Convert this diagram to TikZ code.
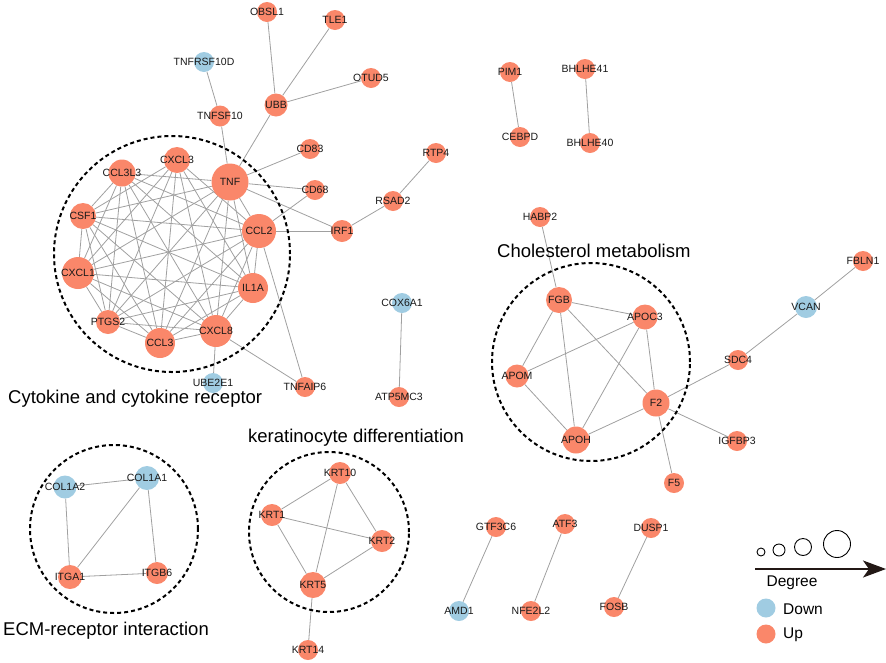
\documentclass[tikz,border=0pt]{standalone}
\usepackage{fontspec}
\setmainfont{Liberation Sans}
\usetikzlibrary{backgrounds,arrows.meta}
\definecolor{upc}{RGB}{250,135,106}
\definecolor{dnc}{RGB}{160,204,226}
\definecolor{edgec}{RGB}{160,160,160}
\definecolor{txt}{RGB}{25,25,25}
\definecolor{arrc}{RGB}{35,24,21}
\begin{document}
\begin{tikzpicture}[x=1pt,y=-1pt,
  up/.style={circle,fill=upc,draw=none,inner sep=0pt,minimum size=#1},
  up/.default=20pt,
  dn/.style={circle,fill=dnc,draw=none,inner sep=0pt,minimum size=#1},
  dn/.default=20pt,
  every label/.style={font=\fontsize{10.5pt}{12pt}\selectfont,text=txt,inner sep=0pt},
  edge/.style={draw=edgec,line width=0.8pt},
  group/.style={draw=black,line width=2pt,dash pattern=on 4pt off 3pt},
  title/.style={font=\fontsize{18.5pt}{22pt}\selectfont,anchor=west,inner sep=0pt,text=black},
  legtxt/.style={font=\fontsize{15.5pt}{18pt}\selectfont,inner sep=0pt,text=black},
  legc/.style={circle,draw=black,line width=0.9pt,inner sep=0pt,minimum size=#1}
]
\useasboundingbox (0,0) rectangle (886,662);
% ---- cytokine cluster and neighbours
\node[up] (OBSL1) at (267,12) [label=center:OBSL1] {};
\node[up] (TLE1) at (335,20) [label=center:TLE1] {};
\node[dn] (TNFRSF10D) at (204,62) [label=center:TNFRSF10D] {};
\node[up] (OTUD5) at (371,78) [label=center:OTUD5] {};
\node[up=23pt] (UBB) at (276,105) [label=center:UBB] {};
\node[up=21pt] (TNFSF10) at (220,116) [label=center:TNFSF10] {};
\node[up] (CD83) at (310,149) [label=center:CD83] {};
\node[up] (RTP4) at (436,153) [label=center:RTP4] {};
\node[up=26pt] (CXCL3) at (177,160) [label=center:CXCL3] {};
\node[up=27pt] (CCL3L3) at (122,173) [label=center:CCL3L3] {};
\node[up=37pt] (TNF) at (230,182) [label=center:TNF] {};
\node[up] (CD68) at (315,190) [label=center:CD68] {};
\node[up] (RSAD2) at (393,201) [label=center:RSAD2] {};
\node[up=26pt] (CSF1) at (83,216) [label=center:CSF1] {};
\node[up=34pt] (CCL2) at (259,231) [label=center:CCL2] {};
\node[up=22pt] (IRF1) at (342,231) [label=center:IRF1] {};
\node[up=32pt] (CXCL1) at (78,273) [label=center:CXCL1] {};
\node[up=30pt] (IL1A) at (253,288) [label=center:IL1A] {};
\node[up=24pt] (PTGS2) at (108,322) [label=center:PTGS2] {};
\node[up=30pt] (CCL3) at (160,343) [label=center:CCL3] {};
\node[up=32pt] (CXCL8) at (216,331) [label=center:CXCL8] {};
\node[dn] (UBE2E1) at (213,383) [label=center:UBE2E1] {};
\node[up] (TNFAIP6) at (305,387) [label=center:TNFAIP6] {};
\node[dn] (COX6A1) at (402,303) [label=center:COX6A1] {};
\node[up] (ATP5MC3) at (399,397) [label=center:ATP5MC3] {};
% ---- pairs top
\node[up] (PIM1) at (510,72) [label=center:PIM1] {};
\node[up] (CEBPD) at (520,137) [label=center:CEBPD] {};
\node[up] (BHLHE41) at (585,69) [label=center:BHLHE41] {};
\node[up] (BHLHE40) at (590,143) [label=center:BHLHE40] {};
% ---- cholesterol
\node[up] (HABP2) at (540,217) [label=center:HABP2] {};
\node[up=26pt] (FGB) at (559,300) [label=center:FGB] {};
\node[up=25pt] (APOC3) at (645,317) [label=center:APOC3] {};
\node[up=23pt] (APOM) at (517,376) [label=center:APOM] {};
\node[up=27pt] (F2) at (656,403) [label=center:F2] {};
\node[up=27pt] (APOH) at (576,440) [label=center:APOH] {};
\node[up] (SDC4) at (738,360) [label=center:SDC4] {};
\node[dn=22pt] (VCAN) at (806,307) [label=center:VCAN] {};
\node[up] (FBLN1) at (863,261) [label=center:FBLN1] {};
\node[up] (IGFBP3) at (737,441) [label=center:IGFBP3] {};
\node[up] (F5) at (674,483) [label=center:F5] {};
% ---- bottom pairs
\node[up] (GTF3C6) at (496,527) [label=center:GTF3C6] {};
\node[up] (ATF3) at (565,524) [label=center:ATF3] {};
\node[up] (DUSP1) at (651,528) [label=center:DUSP1] {};
\node[dn] (AMD1) at (459,611) [label=center:AMD1] {};
\node[up] (NFE2L2) at (531,611) [label=center:NFE2L2] {};
\node[up] (FOSB) at (614,607) [label=center:FOSB] {};
% ---- ECM
\node[dn=23pt] (COL1A2) at (65,487) [label=center:COL1A2] {};
\node[dn=24pt] (COL1A1) at (147,478) [label=center:COL1A1] {};
\node[up=24pt] (ITGA1) at (70,577) [label=center:ITGA1] {};
\node[up=22pt] (ITGB6) at (157,573) [label=center:ITGB6] {};
% ---- keratin
\node[up=22pt] (KRT10) at (340,473) [label=center:KRT10] {};
\node[up=22pt] (KRT1) at (272,515) [label=center:KRT1] {};
\node[up=22pt] (KRT2) at (382,541) [label=center:KRT2] {};
\node[up=26pt] (KRT5) at (313,585) [label=center:KRT5] {};
\node[up] (KRT14) at (308,650) [label=center:KRT14] {};
% ---- group circles
\node[group,circle,minimum size=236pt,inner sep=0pt] (gcyt) at (172,254) {};
\node[group,circle,minimum size=198pt,inner sep=0pt] (gcho) at (591,362) {};
\node[group,circle,minimum size=168pt,inner sep=0pt] (gecm) at (114,529) {};
\node[group,circle,minimum size=160pt,inner sep=0pt] (gkrt) at (329,532) {};
% ---- titles
\node[title] (tcyt) at (8,399) {Cytokine and cytokine receptor};
\node[title] (tcho) at (497,251) {Cholesterol metabolism};
\node[title] (tkrt) at (248,438) {keratinocyte differentiation};
\node[title] (tecm) at (3,631) {ECM-receptor interaction};
% ---- edges
\begin{scope}[on background layer]
\foreach \a/\b in {CXCL3/CSF1,CXCL3/CCL2,CXCL3/CXCL1,CXCL3/IL1A,CXCL3/PTGS2,CXCL3/CCL3,CXCL3/CXCL8,
  CCL3L3/TNF,CCL3L3/CSF1,CCL3L3/CCL2,CCL3L3/CXCL1,CCL3L3/IL1A,CCL3L3/PTGS2,CCL3L3/CCL3,CCL3L3/CXCL8,
  TNF/CSF1,TNF/CCL2,TNF/CXCL1,TNF/IL1A,TNF/PTGS2,TNF/CCL3,TNF/CXCL8,
  CSF1/CCL2,CSF1/CXCL1,CSF1/IL1A,CSF1/PTGS2,CSF1/CCL3,CSF1/CXCL8,
  CCL2/CXCL1,CCL2/IL1A,CCL2/PTGS2,CCL2/CCL3,CCL2/CXCL8,
  CXCL1/IL1A,CXCL1/PTGS2,CXCL1/CCL3,CXCL1/CXCL8,
  IL1A/PTGS2,IL1A/CCL3,IL1A/CXCL8,
  PTGS2/CCL3,PTGS2/CXCL8,CCL3/CXCL8,
  TNF/TNFSF10,TNFSF10/TNFRSF10D,TNF/UBB,UBB/OBSL1,UBB/TLE1,UBB/OTUD5,
  TNF/CD83,TNF/CD68,TNF/IRF1,CCL2/CD68,CCL2/IRF1,IRF1/RSAD2,RSAD2/RTP4,
  CCL2/TNFAIP6,CXCL8/TNFAIP6,CXCL8/UBE2E1,COX6A1/ATP5MC3,
  PIM1/CEBPD,BHLHE41/BHLHE40,
  HABP2/FGB,FGB/APOC3,FGB/APOM,FGB/APOH,FGB/F2,APOC3/APOM,APOC3/APOH,APOC3/F2,
  APOM/APOH,APOH/F2,F2/SDC4,SDC4/VCAN,VCAN/FBLN1,F2/IGFBP3,F2/F5,
  COL1A2/COL1A1,COL1A2/ITGA1,COL1A1/ITGA1,COL1A1/ITGB6,ITGA1/ITGB6,
  KRT10/KRT1,KRT10/KRT5,KRT10/KRT2,KRT1/KRT2,KRT1/KRT5,KRT2/KRT5,KRT5/KRT14,
  GTF3C6/AMD1,ATF3/NFE2L2,DUSP1/FOSB}
  \draw[edge] (\a) -- (\b);
\end{scope}
% ---- legend
\node[legc=8pt] (l1) at (761,552) {};
\node[legc=12pt] (l2) at (779,550) {};
\node[legc=17pt] (l3) at (803,547) {};
\node[legc=27pt] (l4) at (837,544) {};
\coordinate (as) at (755,569);
\coordinate (ae) at (886,569);
\draw[draw=arrc,line width=2pt,-{Stealth[length=23pt,width=17pt,inset=6pt,fill=arrc]}] (as) -- (ae);
\node[legtxt] (deg) at (792,583) {Degree};
\node[dn=19pt] (ldn) at (766,608) {};
\node[legtxt,anchor=west] (ldt) at (783,609) {Down};
\node[up=19pt] (lup) at (766,634) {};
\node[legtxt,anchor=west] (lut) at (783,635) {Up};
\end{tikzpicture}
\end{document}
